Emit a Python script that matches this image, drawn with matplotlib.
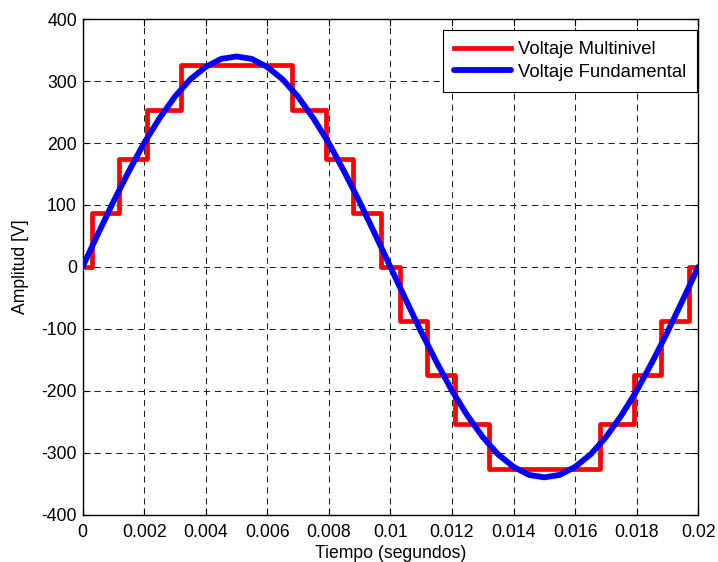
"""Multilevel staircase voltage vs fundamental sine, MATLAB-style figure."""

import matplotlib as mpl
import matplotlib.pyplot as plt

# staircase (multilevel) waveform: step start times [s] and levels [V]
STEP_TIMES = [0.0, 0.0003, 0.0012, 0.0021, 0.0032, 0.0068, 0.0079, 0.0088,
              0.0097, 0.0103, 0.0112, 0.0121, 0.0132, 0.0168, 0.0179, 0.0188,
              0.0197, 0.02]
STEP_LEVELS = [0, 87, 175, 254, 326, 254, 175, 87,
               0, -87, -175, -254, -326, -254, -175, -87,
               0, 0]

# fundamental, read every 0.5 ms
FUND_TIMES = [i * 0.0005 for i in range(41)]
FUND_VALUES = [0, 53, 105, 154, 200, 240, 275, 303, 323, 336,
               340, 336, 323, 303, 275, 240, 200, 154, 105, 53,
               0, -53, -105, -154, -200, -240, -275, -303, -323, -336,
               -340, -336, -323, -303, -275, -240, -200, -154, -105, -53,
               0]

X_TICKS = [0, 0.002, 0.004, 0.006, 0.008, 0.01, 0.012, 0.014, 0.016, 0.018, 0.02]
X_TICK_LABELS = ["0", "0.002", "0.004", "0.006", "0.008", "0.01",
                 "0.012", "0.014", "0.016", "0.018", "0.02"]
Y_TICKS = [-400, -300, -200, -100, 0, 100, 200, 300, 400]

FONT_SIZE = 12.7

mpl.rcParams.update(
    {
        "font.family": ["Liberation Sans", "DejaVu Sans"],
        "font.size": FONT_SIZE,
        "axes.unicode_minus": False,
    }
)

fig = plt.figure(figsize=(7.18, 5.62), dpi=100)
ax = fig.add_axes([82.5 / 718, 1 - 514.5 / 562, 615.8 / 718, 495.2 / 562])

ax.plot(STEP_TIMES, STEP_LEVELS, drawstyle="steps-post", color="#ff0000",
        linewidth=3.4, label="Voltaje Multinivel", zorder=3)
ax.plot(FUND_TIMES, FUND_VALUES, color="#0000ff", linewidth=4.2,
        label="Voltaje Fundamental", zorder=4, solid_capstyle="round")

ax.set_xlim(0, 0.02)
ax.set_ylim(-400, 400)
ax.set_xticks(X_TICKS)
ax.set_xticklabels(X_TICK_LABELS)
ax.set_yticks(Y_TICKS)
ax.grid(True, color="#222222", linestyle=(0, (6, 4.5)), linewidth=0.75)
ax.tick_params(direction="in", top=True, right=True, length=5, width=0.8,
               labelsize=FONT_SIZE)
ax.tick_params(axis="x", pad=7)
ax.tick_params(axis="y", pad=4)
for spine in ax.spines.values():
    spine.set_linewidth(1.0)

ax.set_xlabel("Tiempo (segundos)", fontsize=FONT_SIZE, labelpad=3)
ax.set_ylabel("Amplitud [V]", fontsize=FONT_SIZE, labelpad=9)

leg = ax.legend(loc="upper right", bbox_to_anchor=(0.998, 0.978),
                borderaxespad=0, fancybox=False, framealpha=1,
                edgecolor="black", handlelength=3.1, handletextpad=0.35,
                fontsize=13.3, borderpad=0.6, labelspacing=0.3)
leg.get_frame().set_linewidth(0.8)

fig.savefig("out.png", dpi=100)
